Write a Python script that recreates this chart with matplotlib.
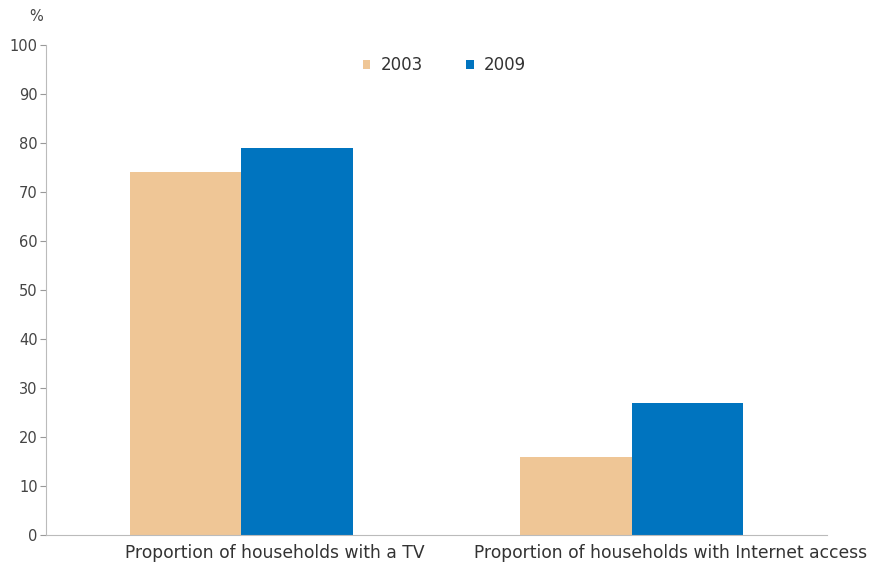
import matplotlib
matplotlib.use("Agg")
import matplotlib.pyplot as plt
import numpy as np

plt.rcParams['font.family'] = ['DejaVu Sans']

categories = ['Proportion of households with a TV',
              'Proportion of households with Internet access']
years = ['2003', '2009']
values_2003 = [74, 16]
values_2009 = [79, 27]
yticks = list(range(0, 101, 10))

c2003 = '#EFC696'
c2009 = '#0074BF'
grey = '#999999'

fig = plt.figure(figsize=(8.73, 5.67), dpi=100)
ax = fig.add_axes([0.0527, 0.0564, 0.8946, 0.8642])

x = np.arange(len(categories))
w = 0.285
ax.bar(x - w / 2, values_2003, w, color=c2003, label=years[0])
ax.bar(x + w / 2, values_2009, w, color=c2009, label=years[1])

ax.set_xlim(-0.5, 1.5)
ax.set_ylim(0, 100)
ax.set_yticks(yticks)
ax.tick_params(axis='y', length=4, width=0.8, color=grey, labelsize=10.5,
               labelcolor='#444444', pad=2)
ax.set_xticks([])
for s in ['top', 'right']:
    ax.spines[s].set_visible(False)
ax.spines['left'].set_color('#bbbbbb')
ax.spines['bottom'].set_color('#bbbbbb')

# category labels sit a little right of the bar groups
ax.text(0.085, -0.018, categories[0], transform=ax.get_xaxis_transform(),
        ha='center', va='top', fontsize=12.3, color='#333333')
ax.text(1.603, -0.018, categories[1], transform=ax.get_xaxis_transform(),
        ha='right', va='top', fontsize=12.3, color='#333333')

fig.text(0.041, 0.985, '%', ha='center', va='top', fontsize=10.5, color='#444444')

ax.legend(loc='upper center', bbox_to_anchor=(0.51, 1.008), ncol=2, frameon=False,
          handlelength=0.45, handleheight=0.45, handletextpad=0.6, columnspacing=2.6,
          fontsize=12, labelcolor='#333333')

fig.savefig('out.png', dpi=100)
